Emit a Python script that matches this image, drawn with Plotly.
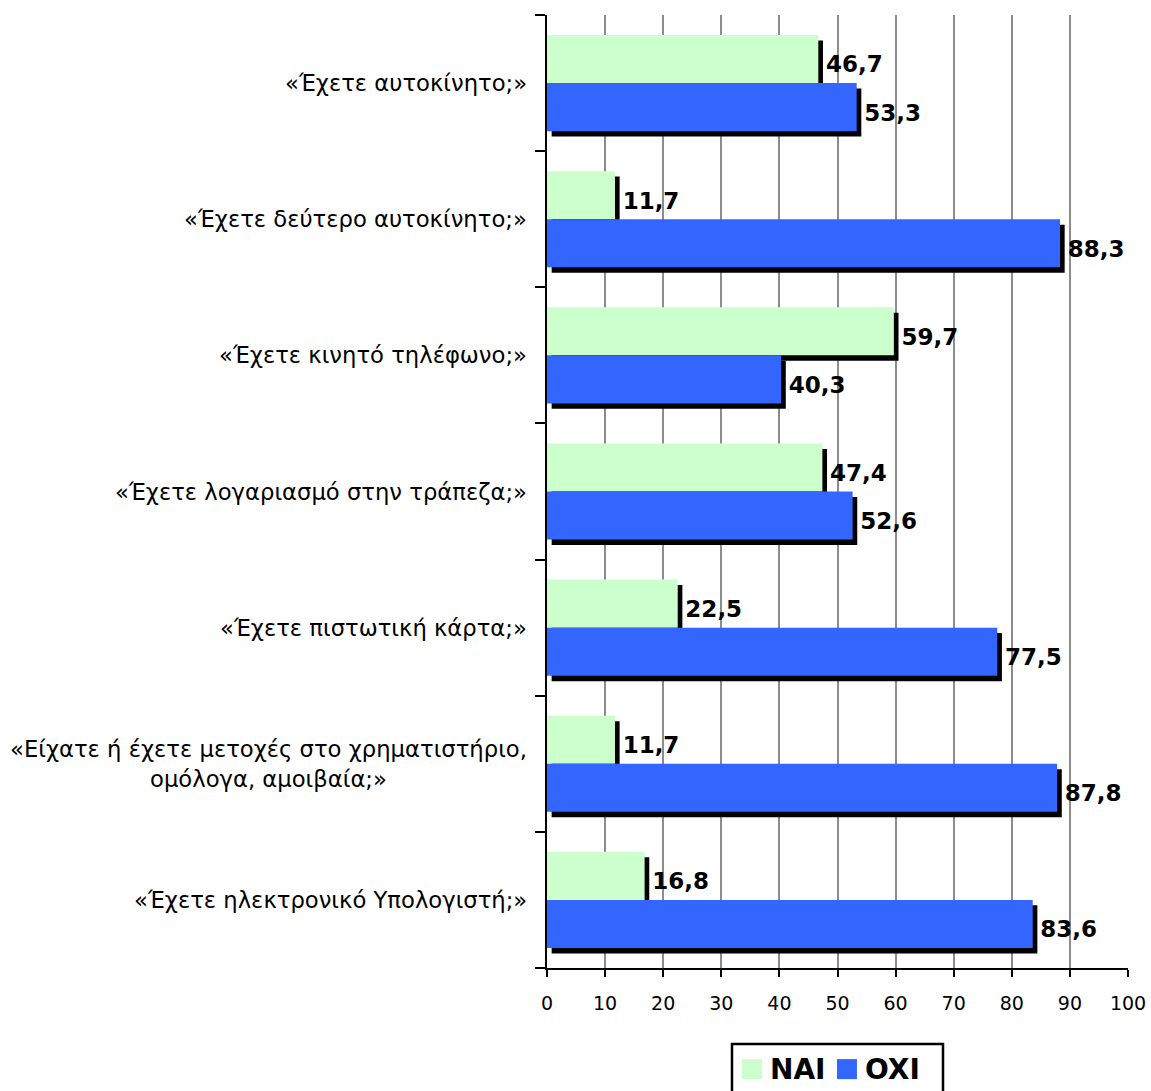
import plotly.graph_objs as go

# Ερωτήσεις (από πάνω προς τα κάτω)
questions = [
    "«Έχετε αυτοκίνητο;»",
    "«Έχετε δεύτερο αυτοκίνητο;»",
    "«Έχετε κινητό τηλέφωνο;»",
    "«Έχετε λογαριασμό στην τράπεζα;»",
    "«Έχετε πιστωτική κάρτα;»",
    "«Είχατε ή έχετε μετοχές στο χρηματιστήριο,<br>ομόλογα, αμοιβαία;»",
    "«Έχετε ηλεκτρονικό Υπολογιστή;»",
]
nai = [46.7, 11.7, 59.7, 47.4, 22.5, 11.7, 16.8]
oxi = [53.3, 88.3, 40.3, 52.6, 77.5, 87.8, 83.6]
x_ticks = [0, 10, 20, 30, 40, 50, 60, 70, 80, 90, 100]
series_names = ["NAI", "OXI"]
series_colors = ["#CCFFCC", "#3366FF"]

FONT = "DejaVu Sans"
pos = list(range(len(questions)))
bar_w = 0.353
# Σκιά: ~5px δεξιά, ~5.5px κάτω
sh_dx = 0.8
sh_dy = 0.04

def fmt(v):
    return f"{v:.1f}".replace(".", ",")

fig = go.Figure()

# — Σκιές (μαύρες) πρώτα, ώστε να είναι κάτω από τις μπάρες
for vals, off in [(nai, -bar_w), (oxi, 0.0)]:
    fig.add_trace(go.Bar(
        y=[p + sh_dy for p in pos], x=vals, base=sh_dx, orientation="h",
        width=bar_w, offset=off, marker=dict(color="black", line=dict(width=0)),
        text=[fmt(v) for v in vals], textposition="outside",
        textfont=dict(family=FONT, size=23, color="black", weight="bold"),
        cliponaxis=False, showlegend=False, hoverinfo="skip",
    ))

# — Μπάρες ΝΑΙ / ΟΧΙ
for vals, off, col, name in [(nai, -bar_w, series_colors[0], series_names[0]),
                             (oxi, 0.0, series_colors[1], series_names[1])]:
    fig.add_trace(go.Bar(
        y=pos, x=vals, orientation="h",
        width=bar_w, offset=off, marker=dict(color=col, line=dict(width=0)),
        name=name, showlegend=False,
    ))

# Ετικέτες κατηγοριών (κεντραρισμένες πολυγραμμές)
for p, q in zip(pos, questions):
    fig.add_annotation(
        x=0, xref="paper", y=p, yref="y", text=q, showarrow=False,
        xanchor="right", yanchor="middle", align="center", xshift=-18,
        font=dict(family=FONT, size=22.7, color="black"),
    )

# Υπόμνημα με πλαίσιο
fig.add_shape(type="rect", xref="paper", yref="paper",
              x0=0.3184, x1=0.6816, y0=-0.135, y1=-0.0797,
              line=dict(color="black", width=2.5), fillcolor="white")
for i, (nm, col) in enumerate(zip(series_names, series_colors)):
    x0 = 0.3356 + i * 0.1635
    fig.add_shape(type="rect", xref="paper", yref="paper",
                  x0=x0, x1=x0 + 0.0344, y0=-0.1166, y1=-0.0956,
                  line=dict(width=0), fillcolor=col)
    fig.add_annotation(x=x0 + 0.0445, xref="paper", y=-0.106, yref="paper",
                       text=nm, showarrow=False, xanchor="left", yanchor="middle",
                       font=dict(family=FONT, size=28, color="black", weight="bold"))

fig.update_layout(
    barmode="overlay",
    width=1151, height=1091,
    margin=dict(l=547, r=23, t=15, b=123),
    plot_bgcolor="white", paper_bgcolor="white",
    font=dict(family=FONT, color="black"),
    showlegend=False,
)
fig.update_xaxes(
    range=[0, 100], tickvals=x_ticks, ticks="outside", ticklen=7, tickwidth=2,
    tickcolor="black", showline=True, linecolor="black", linewidth=2,
    showgrid=True, gridcolor="#8c8c8c", gridwidth=2, zeroline=False,
    tickfont=dict(size=19, family=FONT), ticklabelstandoff=10, automargin=False,
)
fig.update_yaxes(
    range=[len(questions) - 0.5, -0.5], tickvals=pos, showticklabels=False,
    ticks="", showline=True, linecolor="black", linewidth=2,
    showgrid=False, zeroline=False, automargin=False,
    minor=dict(tick0=0.5, dtick=1, ticks="outside", ticklen=10, tickwidth=2, tickcolor="black"),
)

# Body-Rand entfernen, damit die Figur bei (0,0) beginnt
fig.write_html("out.html", config={"displayModeBar": False},
               post_script="document.body.style.margin='0';")
